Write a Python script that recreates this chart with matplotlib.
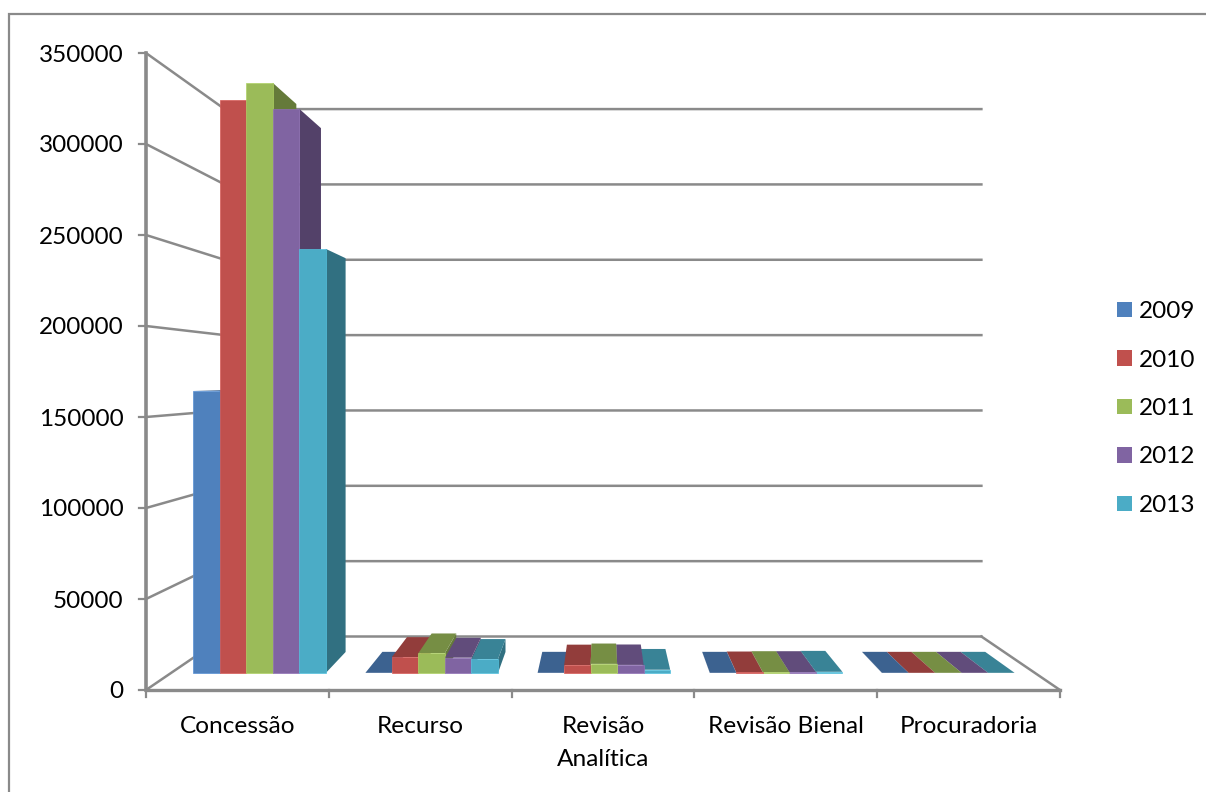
import matplotlib
matplotlib.use("Agg")
from matplotlib import pyplot as plt
from matplotlib.patches import Polygon, Patch
import numpy as np

plt.rcParams['font.family'] = ['Lato', 'DejaVu Sans']

categories = ["Concessão", "Recurso", "Revisão\nAnalítica", "Revisão Bienal", "Procuradoria"]
years = ["2009", "2010", "2011", "2012", "2013"]
v2009 = [164000, 100, 100, 100, 100]
v2010 = [333100, 9300, 4600, 300, 100]
v2011 = [343000, 11600, 5300, 500, 100]
v2012 = [327900, 8900, 4700, 500, 100]
v2013 = [246500, 8100, 1900, 700, 100]
series = [v2009, v2010, v2011, v2012, v2013]
yticks = [0, 50000, 100000, 150000, 200000, 250000, 300000, 350000]

colors = ["#4F81BD", "#C0504D", "#9BBB59", "#8064A2", "#4BACC6"]
grid_col = "#8A8A8A"
y_max = 350000

# perspective box, in pixels
vp_x, vp_y = 603, 379
floor_front, floor_back = 690, 636.5
wall_left, wall_right = 146, 1060
wall_h = 637
bar_front, bar_back = 673, 652
bar_span = 0.77


def shade(col, k):
    r, g, b = matplotlib.colors.to_rgb(col)
    return (min(r * k, 1), min(g * k, 1), min(b * k, 1))


def depth_scale(y0):
    return (y0 - vp_y) / (floor_front - vp_y)


def height_y(value, y0):
    return y0 - value / y_max * (wall_h * depth_scale(y0))


def wall_x(x, y0):
    # slide a point of the front plane back towards the vanishing point
    return vp_x + (x - vp_x) * depth_scale(y0)


def row_x(u, y0):
    # u is in category widths, measured along the front row of the bars
    x = 173.4 + 172.2 * u
    return vp_x + (x - vp_x) * (y0 - vp_y) / (bar_front - vp_y)


fig = plt.figure(figsize=(12.06, 7.92), dpi=100)
ax = fig.add_axes([0, 0, 1, 1])
ax.set_xlim(0, 1206)
ax.set_ylim(792, 0)
ax.axis("off")

# chart frame, only top and left show
ax.plot([1206, 8.5, 8.5], [14, 14, 792], color=grid_col, lw=1.6, solid_joinstyle="miter")

back_l = wall_x(wall_left, floor_back)
back_r = wall_x(wall_right, floor_back)

for v in yticks:
    front = height_y(v, floor_front)
    back = height_y(v, floor_back)
    ax.plot([wall_left, back_l, back_r], [front, back, back], color=grid_col, lw=1.8, zorder=1)
    ax.plot([wall_left - 7, wall_left], [front, front], color=grid_col, lw=1.6, zorder=1)
    ax.text(123.5, front + 2, str(v), ha="right", va="center", fontsize=17.5, color="black")

ax.plot([wall_right, back_r], [floor_front, floor_back], color=grid_col, lw=1.8, zorder=1)
ax.plot([wall_left, wall_left], [height_y(y_max, floor_front), floor_front], color=grid_col, lw=2.6, zorder=2)
ax.plot([wall_left, wall_right], [floor_front, floor_front], color=grid_col, lw=2.4, zorder=2)

edges = np.linspace(wall_left, wall_right, len(categories) + 1)
for x in edges:
    ax.plot([x, x], [floor_front, floor_front + 7], color=grid_col, lw=1.6, zorder=1)

for i, name in enumerate(categories):
    ax.text((edges[i] + edges[i + 1]) / 2, 716, name, ha="center", va="top", fontsize=17.6,
            linespacing=1.68, color="black")

# painter's order: bars farthest from the vanishing point go first
bars = []
for i in range(len(categories)):
    for s in range(len(years)):
        u0 = i + 0.5 - bar_span / 2 + s * bar_span / len(years)
        u1 = u0 + bar_span / len(years)
        bars.append((abs((row_x(u0, bar_front) + row_x(u1, bar_front)) / 2 - vp_x), u0, u1, series[s][i], s))
bars.sort(key=lambda b: -b[0])

z = 3
for _, u0, u1, val, s in bars:
    xf0, xf1 = row_x(u0, bar_front), row_x(u1, bar_front)
    xb0, xb1 = row_x(u0, bar_back), row_x(u1, bar_back)
    yf, yb = height_y(val, bar_front), height_y(val, bar_back)
    col = colors[s]

    # the side turned to the viewer depends on which side of the vanishing point the bar is
    if (xf0 + xf1) / 2 < vp_x:
        side = [(xf1, bar_front), (xb1, bar_back), (xb1, yb), (xf1, yf)]
    else:
        side = [(xf0, bar_front), (xb0, bar_back), (xb0, yb), (xf0, yf)]
    ax.add_patch(Polygon(side, closed=True, fc=shade(col, 0.65), ec="none", zorder=z))
    # tops above the horizon are seen from underneath, so they stay hidden
    if yb < yf:
        ax.add_patch(Polygon([(xf0, yf), (xf1, yf), (xb1, yb), (xb0, yb)], closed=True,
                             fc=shade(col, 0.76), ec="none", zorder=z))
    # almost empty bars have no front worth an outline
    edge = shade(col, 1.12) if val >= 300 else "none"
    ax.add_patch(Polygon([(xf0, bar_front), (xf1, bar_front), (xf1, yf), (xf0, yf)], closed=True,
                         fc=col, ec=edge, lw=0.5, zorder=z))
    z += 1

handles = [Patch(fc=c, ec="none", label=y) for c, y in zip(colors, years)]
ax.legend(handles=handles, loc="center left", bbox_to_anchor=(1117 / 1206, 1 - 408.5 / 792),
          frameon=False, fontsize=17.5, handlelength=0.62, handleheight=0.62,
          labelspacing=1.13, handletextpad=0.3, borderpad=0, borderaxespad=0)

fig.savefig("out.png", dpi=100)
